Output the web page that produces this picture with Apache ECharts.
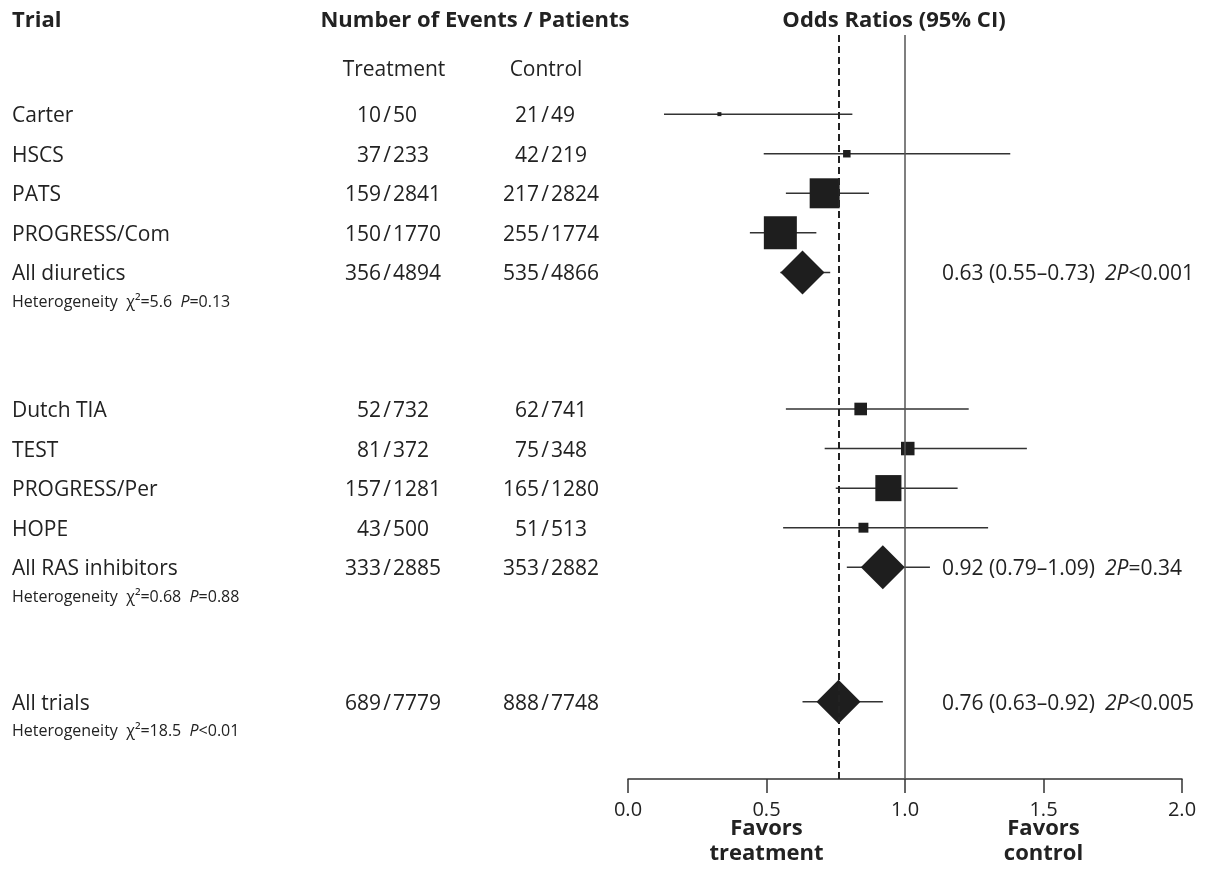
<!DOCTYPE html>
<html>
<head>
<meta charset="utf-8">
<script src="https://cdn.jsdelivr.net/npm/echarts/dist/echarts.min.js"></script>
<style>
    html, body { margin: 0; padding: 0; background: #fff; }
    #chart { width: 1205px; height: 892px; }
</style>
</head>
<body>
<div id="chart"></div>
<script>
// trials, top to bottom
const trials = ['Carter', 'HSCS', 'PATS', 'PROGRESS/Com', 'All diuretics',
    'Dutch TIA', 'TEST', 'PROGRESS/Per', 'HOPE', 'All RAS inhibitors', 'All trials']
// row index of each trial (gaps between groups)
const rowPos = [2, 3, 4, 5, 6, 9.45, 10.45, 11.45, 12.45, 13.45, 16.85]
const treatEvents = [10, 37, 159, 150, 356, 52, 81, 157, 43, 333, 689]
const treatTotal = [50, 233, 2841, 1770, 4894, 732, 372, 1281, 500, 2885, 7779]
const ctrlEvents = [21, 42, 217, 255, 535, 62, 75, 165, 51, 353, 888]
const ctrlTotal = [49, 219, 2824, 1774, 4866, 741, 348, 1280, 513, 2882, 7748]
const oddsRatio = [0.33, 0.79, 0.71, 0.55, 0.63, 0.84, 1.01, 0.94, 0.85, 0.92, 0.76]
const ciLow = [0.13, 0.49, 0.57, 0.44, 0.55, 0.57, 0.71, 0.75, 0.56, 0.79, 0.63]
const ciHigh = [0.81, 1.38, 0.87, 0.68, 0.73, 1.23, 1.44, 1.19, 1.30, 1.09, 0.92]
// relative weight of single trials (0 = pooled estimate)
const weight = [0.13, 0.25, 1.0, 1.1, 0, 0.42, 0.45, 0.87, 0.33, 0, 0]
const isPooled = [false, false, false, false, true, false, false, false, false, true, true]

// pooled results
const pooledRow = [4, 9, 10]
const pooledText = ['0.63 (0.55–0.73)', '0.92 (0.79–1.09)', '0.76 (0.63–0.92)']
const pooledP = ['<0.001', '=0.34', '<0.005']
const hetChi = ['5.6', '0.68', '18.5']
const hetP = ['=0.13', '=0.88', '<0.01']
const overallOR = 0.76

const xTicks = [0, 0.5, 1, 1.5, 2]

const font = '"Open Sans", "Noto Sans", sans-serif'
const ink = '#222'

let chart = echarts.init(document.getElementById('chart'))

let ciData = trials.map((t, i) => [ciLow[i], ciHigh[i], rowPos[i]])
let boxData = []
let diamondData = []
trials.forEach((t, i) => {
    if (isPooled[i]) diamondData.push([oddsRatio[i], rowPos[i]])
    else boxData.push([oddsRatio[i], rowPos[i], weight[i]])
})

chart.setOption({
    animation: false,
    grid: { left: 628, right: 23, top: 35, bottom: 113 },
    xAxis: {
        type: 'value',
        position: 'bottom',
        min: xTicks[0],
        max: xTicks[xTicks.length - 1],
        interval: 0.5,
        splitLine: { show: false },
        axisLine: { onZero: false, lineStyle: { color: '#333', width: 1.5 } },
        axisTick: { length: 14, lineStyle: { color: '#333', width: 1.5 } },
        axisLabel: {
            margin: 21,
            color: ink,
            fontFamily: font,
            fontSize: 20,
            formatter: v => v.toFixed(1)
        }
    },
    yAxis: {
        type: 'value',
        inverse: true,
        min: 0,
        max: 18.8,
        show: false
    },
    series: [
        {
            // confidence intervals
            type: 'custom',
            data: ciData,
            encode: { x: [0, 1], y: 2 },
            renderItem: function (params, api) {
                let a = api.coord([api.value(0), api.value(2)])
                let b = api.coord([api.value(1), api.value(2)])
                return {
                    type: 'line',
                    shape: { x1: a[0], y1: a[1], x2: b[0], y2: b[1] },
                    style: { stroke: '#333', lineWidth: 1.5 }
                }
            },
            markLine: {
                silent: true,
                symbol: 'none',
                label: { show: false },
                data: [
                    { xAxis: 1, lineStyle: { color: '#555', width: 1.5, type: 'solid' } },
                    { xAxis: overallOR, lineStyle: { color: '#222', width: 2, type: [7, 4] } }
                ]
            },
            z: 2
        },
        {
            // single trials
            type: 'scatter',
            data: boxData,
            symbol: 'rect',
            symbolSize: v => Math.max(4, v[2] * 30),
            itemStyle: { color: '#1e1e1e', opacity: 1 },
            z: 3
        },
        {
            // pooled estimates
            type: 'scatter',
            data: diamondData,
            symbol: 'diamond',
            symbolSize: 44,
            itemStyle: { color: '#1e1e1e', opacity: 1 },
            z: 3
        }
    ]
})

// table text next to the plot
const yPix = v => chart.convertToPixel({ yAxisIndex: 0 }, v) + 2
const xPix = v => chart.convertToPixel({ xAxisIndex: 0 }, v)

let texts = []
function addText(text, x, y, opts) {
    texts.push({
        type: 'text',
        silent: true,
        style: Object.assign({
            text: text, x: x, y: y,
            fill: ink,
            font: '21px ' + font,
            align: 'left',
            verticalAlign: 'middle'
        }, opts || {})
    })
}
// "events / total" lined up on the slash
function addCount(events, total, slashX, y) {
    addText(String(events), slashX - 6, y, { align: 'right' })
    addText('/', slashX, y, { align: 'center' })
    addText(String(total), slashX + 6, y)
}

addText('Trial', 12, 21, { font: 'bold 22px ' + font })
addText('Number of Events / Patients', 475, 21, { font: 'bold 22px ' + font, align: 'center' })
addText('Odds Ratios (95% CI)', 894, 21, { font: 'bold 22px ' + font, align: 'center' })
addText('Treatment', 394, 70, { align: 'center' })
addText('Control', 546, 70, { align: 'center' })

trials.forEach((t, i) => {
    let y = yPix(rowPos[i])
    addText(t, 12, y)
    addCount(treatEvents[i], treatTotal[i], 387, y)
    addCount(ctrlEvents[i], ctrlTotal[i], 545, y)
})

pooledRow.forEach((r, k) => {
    let y = yPix(rowPos[r])
    texts.push({
        type: 'text',
        silent: true,
        style: {
            x: 942, y: y,
            align: 'left', verticalAlign: 'middle',
            text: '{n|' + pooledText[k] + '}   {i|2P}{n|' + pooledP[k] + '}',
            rich: {
                n: { fontFamily: font, fontSize: 21, fill: ink },
                i: { fontFamily: font, fontSize: 21, fill: ink, fontStyle: 'italic' }
            }
        }
    })
    texts.push({
        type: 'text',
        silent: true,
        style: {
            x: 12, y: yPix(rowPos[r] + 0.7),
            align: 'left', verticalAlign: 'middle',
            text: '{n|Heterogeneity  χ²=' + hetChi[k] + '  }{i|P}{n|' + hetP[k] + '}',
            rich: {
                n: { fontFamily: font, fontSize: 16, fill: ink },
                i: { fontFamily: font, fontSize: 16, fill: ink, fontStyle: 'italic' }
            }
        }
    })
})

addText('Favors\ntreatment', xPix(0.5), 841, { font: 'bold 22px ' + font, align: 'center', lineHeight: 25 })
addText('Favors\ncontrol', xPix(1.5), 841, { font: 'bold 22px ' + font, align: 'center', lineHeight: 25 })

chart.setOption({ graphic: texts })
</script>
</body>
</html>
